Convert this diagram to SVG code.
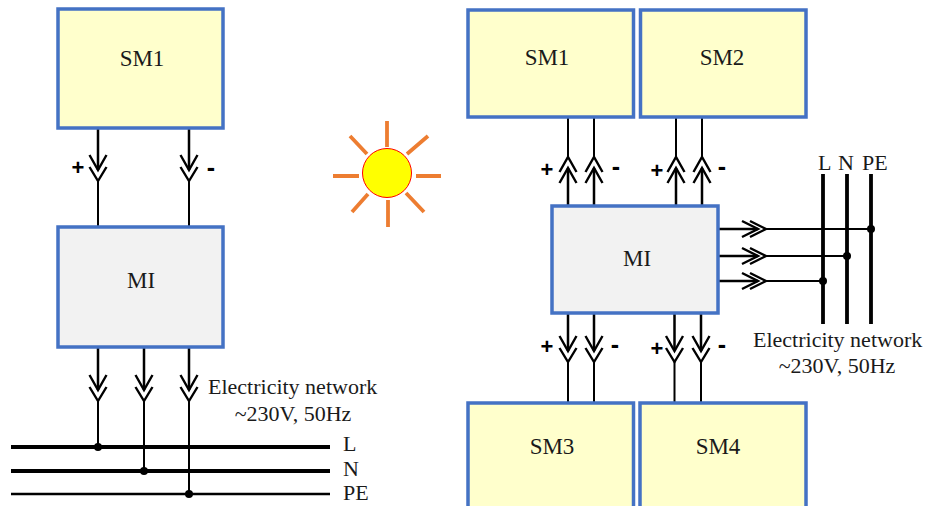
<svg xmlns="http://www.w3.org/2000/svg" width="925" height="506" viewBox="0 0 925 506">
<style>
.sm{fill:#FFFFCC;stroke:#4472C4;stroke-width:3.500}
.mi{fill:#F2F2F2;stroke:#4472C4;stroke-width:3.500}
text{font-family:"Liberation Serif","Times New Roman",serif;font-size:23px;fill:#1a1a1a}
.m{text-anchor:middle}
.n{font-size:22px}
.s{font-family:"Liberation Sans",Arial,sans-serif;font-weight:bold;font-size:25px;fill:#000;text-anchor:middle}
.p{font-size:22px}
.w{fill:none;stroke:#000;stroke-width:2}
.t{fill:none;stroke:#000;stroke-width:2.500}
.c{fill:none;stroke:#000;stroke-width:2.400}
.b{stroke:#000;stroke-width:3.800;fill:none}
.r{stroke:#ED7D31;stroke-width:3.800;fill:none}
</style>
<defs>
<path id="d" class="c" d="M-8.500 -15L0 0L8.500 -15M-8.500 -3L0 11L8.500 -3"/>
<path id="u" class="c" d="M-8.500 15L0 0L8.500 15M-8.500 26L0 11L8.500 26"/>
<path id="h" class="c" d="M-16 -8L0 0L-16 8M-8 -8L8 0L-8 8"/>
</defs>
<g id="connectors">
<path class="t" d="M98 128V170M189 128V170M98 347V390M144 347V390M189 347V390M568 168V206M594 168V206M676 168V206M702 168V206M568 313V351M594 313V351M674.500 313V351M701 313V351M718 229H758M718 256H758M718 281H758"/>
<path class="w" d="M98 181V227M189 181V227M98 401V447M144 401V471M189 401V494M568 117V157M594 117V157M676 117V157M702 117V157M568 362V403M594 362V403M674.500 362V403M701 362V403M766 229H871M766 256H847M766 281H823"/>
<path class="b" d="M11 447H330M11 471H330"/>
<path class="b" style="stroke-width:2.600" d="M11 494H330"/>
<circle cx="98" cy="447" r="4"/><circle cx="144" cy="471" r="4"/><circle cx="189" cy="494" r="4"/>
<use href="#d" x="98" y="170"/><use href="#d" x="189" y="170"/>
<use href="#d" x="98" y="390"/><use href="#d" x="144" y="390"/><use href="#d" x="189" y="390"/>
<use href="#u" x="568" y="157"/><use href="#u" x="594" y="157"/><use href="#u" x="676" y="157"/><use href="#u" x="702" y="157"/>
<use href="#d" x="568" y="351"/><use href="#d" x="594" y="351"/><use href="#d" x="674.500" y="351"/><use href="#d" x="701" y="351"/>
<path class="b" d="M823 174V324M847 174V324M871 174V324"/>
<circle cx="871" cy="229" r="4"/><circle cx="847" cy="256" r="4"/><circle cx="823" cy="281" r="4"/>
<use href="#h" x="758" y="229"/><use href="#h" x="758" y="256"/><use href="#h" x="758" y="281"/>
</g>
<g id="sm1-left"><rect class="sm" x="58" y="9" width="165" height="119"/><text class="m" x="142" y="66">SM1</text></g>
<g id="mi-left"><rect class="mi" x="58" y="227" width="165" height="120"/><text class="m" x="141" y="288">MI</text></g>
<g id="sm1-right"><rect class="sm" x="468" y="10" width="165.500" height="107"/><text class="m" x="547" y="65">SM1</text></g>
<g id="sm2-right"><rect class="sm" x="640.500" y="10" width="165.500" height="107"/><text class="m" x="722" y="65">SM2</text></g>
<g id="mi-right"><rect class="mi" x="552" y="206" width="166" height="107"/><text class="m" x="637" y="266">MI</text></g>
<g id="sm3-right"><rect class="sm" x="468" y="403" width="165.500" height="110"/><text class="m" x="552" y="454">SM3</text></g>
<g id="sm4-right"><rect class="sm" x="640" y="403" width="166" height="110"/><text class="m" x="718" y="454">SM4</text></g>
<g id="sun">
<path class="r" d="M387 121V147M388 200V227M333 176H359M416 176H441M350 136L367 154M428 136L407 154M368 194L352 212M406 193L424 212"/>
<circle cx="387" cy="173" r="24.500" fill="#FFFF00" stroke="#FF0000" stroke-width="1"/>
</g>
<g id="labels">
<text class="s p" x="78" y="175">+</text><text class="s" x="211" y="176">-</text>
<text class="s p" x="547" y="177">+</text><text class="s" x="616" y="175">-</text><text class="s p" x="657" y="178">+</text><text class="s" x="722" y="175">-</text>
<text class="s p" x="547" y="354">+</text><text class="s" x="615" y="353">-</text><text class="s p" x="657" y="356">+</text><text class="s" x="722" y="353">-</text>
<text class="n" x="208" y="394">Electricity network</text>
<text class="n m" x="293" y="421">~230V, 50Hz</text>
<text class="n" x="343" y="451">L</text>
<text class="n" x="343" y="476">N</text>
<text class="n" x="343" y="500">PE</text>
<text class="n" x="818" y="170">L</text>
<text class="n" x="838" y="170">N</text>
<text class="n" x="862" y="170">PE</text>
<text class="n" x="753" y="347">Electricity network</text>
<text class="n m" x="837" y="373">~230V, 50Hz</text>
</g>
</svg>
